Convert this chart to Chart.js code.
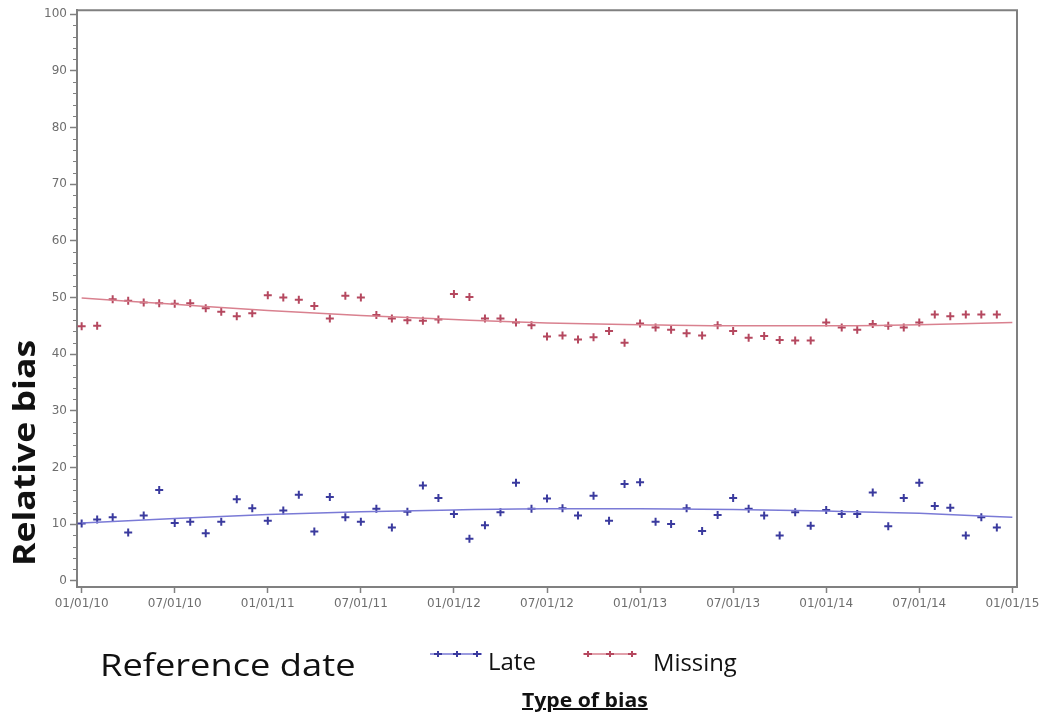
<!DOCTYPE html>
<html>
<head>
<meta charset="utf-8">
<script src="https://cdn.jsdelivr.net/npm/chart.js@4.4.1/dist/chart.umd.min.js"></script>
<style>
  html, body { margin: 0; padding: 0; background: #fff; }
  #wrap { position: relative; width: 1049px; height: 718px; overflow: hidden; }
  #wrap canvas { position: absolute; left: 0; top: 0; }
  .lbl { position: absolute; white-space: nowrap; color: #111; line-height: 1;
         font-family: "Open Sans", sans-serif; transform-origin: 0 0; }
  .sym { position: absolute; }
</style>
</head>
<body>
<div id="wrap">
  <canvas id="chart" width="1049" height="718"></canvas>
  <div class="lbl" id="ytitle" data-w="226" data-rot="1" style="left:8px;top:566px;font-size:31px;font-weight:700;">Relative bias</div>
  <div class="lbl" data-w="255" style="left:100px;top:649px;font-size:31px;font-weight:500;">Reference date</div>
  <svg class="sym" style="left:428px;top:647px" width="56" height="14">
    <line x1="2" y1="7" x2="54" y2="7" stroke="#7a7ad6" stroke-width="1.5"/>
    <path d="M6 7h8M10 4v6M25 7h8M29 4v6M45 7h8M49 4v6" stroke="#3a3a9e" stroke-width="2"/>
  </svg>
  <div class="lbl" data-w="48" style="left:488px;top:650px;font-size:23px;font-weight:500;">Late</div>
  <svg class="sym" style="left:581px;top:647px" width="58" height="14">
    <line x1="2" y1="7" x2="56" y2="7" stroke="#d9818f" stroke-width="1.5"/>
    <path d="M3 7h8M7 4v6M25 7h8M29 4v6M47 7h8M51 4v6" stroke="#b5485f" stroke-width="2"/>
  </svg>
  <div class="lbl" data-w="84" style="left:653px;top:651px;font-size:23px;font-weight:500;">Missing</div>
  <div class="lbl" data-w="126" style="left:522px;top:690px;font-size:20px;font-weight:700;text-decoration:underline;">Type of bias</div>
</div>
<script>
// months since 01/01/10, one point per month
const months = [0, 1, 2, 3, 4, 5, 6, 7, 8, 9, 10, 11, 12, 13, 14, 15, 16, 17, 18, 19,
  20, 21, 22, 23, 24, 25, 26, 27, 28, 29, 30, 31, 32, 33, 34, 35, 36, 37, 38, 39,
  40, 41, 42, 43, 44, 45, 46, 47, 48, 49, 50, 51, 52, 53, 54, 55, 56, 57, 58, 59];

const lateBias = [10.1, 10.8, 11.2, 8.5, 11.5, 16.0, 10.2, 10.4, 8.4, 10.4,
  14.4, 12.8, 10.6, 12.4, 15.2, 8.7, 14.8, 11.2, 10.4, 12.7,
  9.4, 12.2, 16.8, 14.6, 11.8, 7.4, 9.8, 12.1, 17.3, 12.7,
  14.5, 12.8, 11.5, 15.0, 10.6, 17.1, 17.4, 10.4, 10.0, 12.8,
  8.8, 11.6, 14.6, 12.7, 11.5, 8.0, 12.1, 9.7, 12.5, 11.8,
  11.8, 15.6, 9.6, 14.6, 17.3, 13.2, 12.9, 8.0, 11.2, 9.4];

const missingBias = [44.9, 45.0, 49.7, 49.4, 49.1, 49.0, 48.9, 49.0, 48.1, 47.5,
  46.7, 47.2, 50.4, 50.0, 49.6, 48.5, 46.3, 50.3, 50.0, 46.9,
  46.3, 46.0, 45.9, 46.1, 50.6, 50.1, 46.3, 46.3, 45.6, 45.1,
  43.1, 43.3, 42.6, 43.0, 44.1, 42.0, 45.4, 44.7, 44.3, 43.7,
  43.3, 45.1, 44.1, 42.9, 43.2, 42.5, 42.4, 42.4, 45.6, 44.7,
  44.3, 45.3, 45.0, 44.7, 45.6, 47.0, 46.7, 47.0, 47.0, 47.0];

// smoothed trend
const trendMonths = [0, 6, 12, 18, 24, 30, 36, 42, 48, 54, 60];
const lateTrend = [10.2, 11.0, 11.7, 12.2, 12.5, 12.7, 12.7, 12.6, 12.3, 11.9, 11.2];
const missingTrend = [49.9, 48.8, 47.7, 46.8, 46.1, 45.5, 45.2, 45.0, 45.0, 45.2, 45.6];

const xTickMonths = [0, 6, 12, 18, 24, 30, 36, 42, 48, 54, 60];
const xTickLabels = ["01/01/10", "07/01/10", "01/01/11", "07/01/11", "01/01/12", "07/01/12",
  "01/01/13", "07/01/13", "01/01/14", "07/01/14", "01/01/15"];
const yTicks = [0, 10, 20, 30, 40, 50, 60, 70, 80, 90, 100];

const AXIS = "#808080";
const TICK_TXT = "#6e6e6e";

function pts(xs, ys) {
  return xs.map((x, i) => ({ x: x, y: ys[i] }));
}

// frame on top/right + minor ticks on y axis
const framePlugin = {
  id: "frame",
  afterDraw(chart) {
    const { ctx, chartArea: a, scales } = chart;
    ctx.save();
    ctx.strokeStyle = AXIS;
    ctx.lineWidth = 2;
    ctx.beginPath();
    ctx.moveTo(a.left, a.top);
    ctx.lineTo(a.right, a.top);
    ctx.lineTo(a.right, a.bottom);
    ctx.stroke();
    ctx.lineWidth = 1.2;
    ctx.beginPath();
    for (let v = 2; v < 100; v += 2) {
      if (v % 10 === 0) continue;
      const y = Math.round(scales.y.getPixelForValue(v)) + 0.5;
      ctx.moveTo(a.left - 4, y);
      ctx.lineTo(a.left, y);
    }
    ctx.stroke();
    ctx.restore();
  }
};

new Chart(document.getElementById("chart").getContext("2d"), {
  type: "scatter",
  data: {
    datasets: [
      {
        label: "Late trend", data: pts(trendMonths, lateTrend), showLine: true,
        borderColor: "#7a7ad6", borderWidth: 1.5, pointRadius: 0,
        cubicInterpolationMode: "monotone"
      },
      {
        label: "Missing trend", data: pts(trendMonths, missingTrend), showLine: true,
        borderColor: "#d9818f", borderWidth: 1.5, pointRadius: 0,
        cubicInterpolationMode: "monotone"
      },
      {
        label: "Late", data: pts(months, lateBias),
        pointStyle: "cross", pointRadius: 4, borderWidth: 2,
        borderColor: "#3a3a9e", backgroundColor: "#3a3a9e"
      },
      {
        label: "Missing", data: pts(months, missingBias),
        pointStyle: "cross", pointRadius: 4, borderWidth: 2,
        borderColor: "#b5485f", backgroundColor: "#b5485f"
      }
    ]
  },
  options: {
    responsive: false,
    devicePixelRatio: 1,
    animation: false,
    layout: { padding: { top: 10, right: 32, left: 0, bottom: 0 } },
    plugins: { legend: { display: false }, tooltip: { enabled: false } },
    scales: {
      x: {
        type: "linear",
        min: -0.3,
        max: 60.3,
        afterBuildTicks: s => { s.ticks = xTickMonths.map(v => ({ value: v })); },
        afterFit: s => { s.height = 131; },
        ticks: {
          autoSkip: false, maxRotation: 0, color: TICK_TXT, padding: 4,
          font: { family: "DejaVu Sans", size: 12 },
          callback: v => xTickLabels[xTickMonths.indexOf(v)]
        },
        grid: { drawOnChartArea: false, tickLength: 6, tickColor: AXIS, tickWidth: 1.5 },
        border: { color: AXIS, width: 2 }
      },
      y: {
        min: -1.1,
        max: 100.7,
        afterBuildTicks: s => { s.ticks = yTicks.map(v => ({ value: v })); },
        afterFit: s => { s.width = 77; },
        ticks: {
          color: TICK_TXT, padding: 3,
          font: { family: "DejaVu Sans", size: 12 }
        },
        grid: { drawOnChartArea: false, tickLength: 7, tickColor: AXIS, tickWidth: 1.5 },
        border: { color: AXIS, width: 2 }
      }
    }
  },
  plugins: [framePlugin]
});

// stretch overlay labels to the widths seen in the picture
function fitLabels() {
  document.querySelectorAll(".lbl").forEach(el => {
    const sx = Number(el.dataset.w) / el.offsetWidth;
    el.style.transform = (el.dataset.rot ? "rotate(-90deg) " : "") + "scaleX(" + sx + ")";
  });
}
fitLabels();
if (document.fonts) document.fonts.ready.then(fitLabels);
</script>
</body>
</html>
